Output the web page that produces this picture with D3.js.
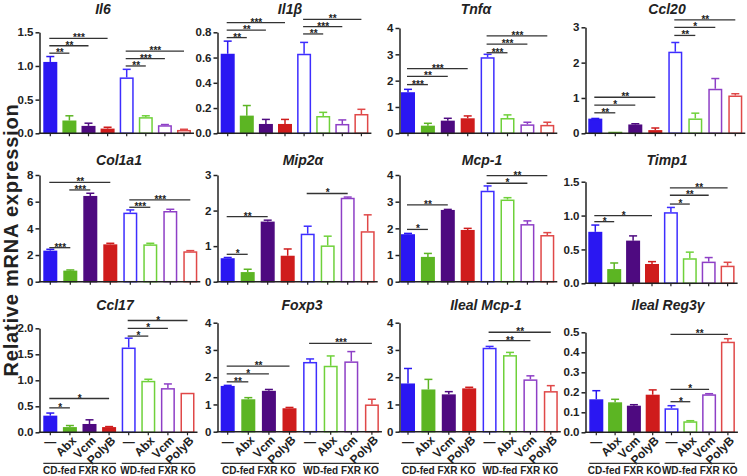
<!DOCTYPE html>
<html><head><meta charset="utf-8">
<script src="https://cdn.jsdelivr.net/npm/d3@7"></script>
<style>
body{margin:0;background:#fff}
svg{display:block}
text{font-family:"Liberation Sans",Arial,sans-serif;font-weight:bold;fill:#222}
</style>
</head><body>
<svg id="c" width="747" height="476"></svg>
<script>
// ---------- data ----------
const conditions = ["—", "Abx", "Vcm", "PolyB"];
const cohorts = ["CD-fed FXR KO", "WD-fed FXR KO"];
const genes = ["Il6", "Il1β", "Tnfα", "Ccl20", "Col1a1", "Mip2α", "Mcp-1", "Timp1", "Ccl17", "Foxp3", "Ileal Mcp-1", "Ileal Reg3γ"];
const yAxisTitle = "Relative mRNA expression";

const yMax = [1.5, 0.8, 4, 3, 8, 3, 4, 1.5, 2.0, 4, 4, 0.5];
const yTicks = [
  [0, 0.5, 1.0, 1.5], [0, 0.2, 0.4, 0.6, 0.8], [0, 1, 2, 3, 4], [0, 1, 2, 3],
  [0, 2, 4, 6, 8], [0, 1, 2, 3], [0, 1, 2, 3, 4], [0, 0.5, 1.0, 1.5],
  [0, 0.5, 1.0, 1.5, 2.0], [0, 1, 2, 3, 4], [0, 1, 2, 3, 4], [0, 0.1, 0.2, 0.3, 0.4, 0.5]
];
const tickDecimals = [1, 1, 0, 0, 0, 0, 0, 1, 1, 0, 0, 1];

// means (CD: -, Abx, Vcm, PolyB, WD: -, Abx, Vcm, PolyB) and SEM
const il6Mean = [1.06, 0.19, 0.11, 0.07, 0.83, 0.24, 0.12, 0.05];
const il6Sem = [0.08, 0.07, 0.04, 0.02, 0.12, 0.02, 0.01, 0.01];
const il1bMean = [0.63, 0.14, 0.074, 0.074, 0.63, 0.137, 0.074, 0.153];
const il1bSem = [0.10, 0.08, 0.036, 0.036, 0.09, 0.029, 0.032, 0.037];
const tnfaMean = [1.56, 0.29, 0.48, 0.57, 2.89, 0.58, 0.34, 0.32];
const tnfaSem = [0.11, 0.09, 0.09, 0.09, 0.11, 0.12, 0.08, 0.10];
const ccl20Mean = [0.415, 0.01, 0.25, 0.09, 2.31, 0.42, 1.26, 1.07];
const ccl20Sem = [0.005, 0.005, 0.02, 0.06, 0.26, 0.15, 0.29, 0.05];
const col1a1Mean = [2.33, 0.83, 6.43, 2.8, 5.18, 2.8, 5.3, 2.28];
const col1a1Sem = [0.1, 0.05, 0.2, 0.08, 0.2, 0.08, 0.13, 0.05];
const mip2aMean = [0.66, 0.27, 1.69, 0.73, 1.35, 1.02, 2.36, 1.42];
const mip2aSem = [0.02, 0.08, 0.04, 0.19, 0.21, 0.26, 0.02, 0.46];
const mcp1Mean = [1.78, 0.93, 2.69, 1.94, 3.41, 3.08, 2.16, 1.75];
const mcp1Sem = [0.03, 0.13, 0.02, 0.06, 0.18, 0.07, 0.12, 0.09];
const timp1Mean = [0.76, 0.21, 0.63, 0.285, 1.05, 0.37, 0.32, 0.26];
const timp1Sem = [0.10, 0.09, 0.07, 0.035, 0.07, 0.09, 0.06, 0.05];
const ccl17Mean = [0.32, 0.10, 0.16, 0.10, 1.63, 0.99, 0.85, 0.76];
const ccl17Sem = [0.05, 0.03, 0.08, 0.01, 0.18, 0.03, 0.08, 0.0];
const foxp3Mean = [1.68, 1.19, 1.50, 0.86, 2.56, 2.42, 2.58, 1.0];
const foxp3Sem = [0.02, 0.06, 0.05, 0.03, 0.11, 0.36, 0.36, 0.19];
const ilealMcp1Mean = [1.77, 1.55, 1.37, 1.59, 3.08, 2.81, 1.92, 1.49];
const ilealMcp1Sem = [0.55, 0.37, 0.10, 0.04, 0.05, 0.10, 0.13, 0.20];
const reg3gMean = [0.165, 0.15, 0.133, 0.188, 0.12, 0.055, 0.19, 0.453];
const reg3gSem = [0.043, 0.015, 0.005, 0.024, 0.013, 0.003, 0.003, 0.015];

const means = [il6Mean, il1bMean, tnfaMean, ccl20Mean, col1a1Mean, mip2aMean, mcp1Mean, timp1Mean, ccl17Mean, foxp3Mean, ilealMcp1Mean, reg3gMean];
const sems = [il6Sem, il1bSem, tnfaSem, ccl20Sem, col1a1Sem, mip2aSem, mcp1Sem, timp1Sem, ccl17Sem, foxp3Sem, ilealMcp1Sem, reg3gSem];

// significance brackets: [fromBar, toBar, level (data units), label]
const sig = [
  [[0,1,1.19,"**"],[0,2,1.30,"**"],[0,3,1.41,"***"],[4,5,1.00,"**"],[4,6,1.11,"***"],[4,7,1.22,"***"]],
  [[0,1,0.758,"**"],[0,2,0.818,"**"],[0,3,0.877,"***"],[4,5,0.787,"**"],[4,6,0.845,"***"],[4,7,0.903,"**"]],
  [[0,1,1.85,"***"],[0,2,2.16,"**"],[0,3,2.46,"***"],[4,5,3.06,"***"],[4,6,3.39,"***"],[4,7,3.70,"***"]],
  [[0,1,0.58,"**"],[0,2,0.80,"*"],[0,3,1.02,"**"],[4,5,2.77,"**"],[4,6,3.0,"*"],[4,7,3.21,"**"]],
  [[0,1,2.55,"***"],[1,2,6.88,"***"],[0,3,7.45,"**"],[4,5,5.58,"***"],[4,7,6.13,"***"]],
  [[0,1,0.77,"*"],[0,2,1.83,"**"],[4,6,2.48,"*"]],
  [[0,1,1.96,"*"],[0,2,2.88,"**"],[4,6,3.69,"*"],[4,7,3.98,"**"]],
  [[0,1,0.91,"*"],[0,3,1.0,"*"],[4,5,1.17,"*"],[4,6,1.30,"**"],[4,7,1.41,"**"]],
  [[0,1,0.47,"*"],[0,3,0.65,"*"],[4,5,1.85,"*"],[4,6,2.0,"*"],[4,7,2.15,"*"]],
  [[0,1,1.83,"**"],[0,2,2.12,"*"],[0,3,2.41,"**"],[4,7,3.24,"***"]],
  [[4,6,3.34,"**"],[4,7,3.65,"**"]],
  [[4,5,0.153,"*"],[4,6,0.215,"*"],[4,7,0.49,"**"]]
];

// ---------- style / layout ----------
const fillCols = ["#2a17f2", "#5cb523", "#4e0a80", "#cf1c1c"];
const lineCols = ["#3d2dff", "#6fd13a", "#8e3fc6", "#e04848"];
const axisCol = "#222";
// per panel: axis x, plot top, baseline, first bar left, bar step, title center x, title baseline
const layout = [
  {ax:39.5, top:32.3, bot:133.3, x0:43.3, step:19.1, tx:103, ty:13.5},
  {ax:217.5, top:32.3, bot:133.3, x0:220.7, step:19.1, tx:290, ty:13.5},
  {ax:399.5, top:28, bot:133.3, x0:401, step:19.9, tx:476, ty:13.5},
  {ax:585.5, top:27.3, bot:133.3, x0:588.3, step:20, tx:667, ty:13.5},
  {ax:39.5, top:175, bot:281.7, x0:43.3, step:20, tx:119, ty:165},
  {ax:217.5, top:175, bot:281.7, x0:220.7, step:20, tx:303, ty:165},
  {ax:399.5, top:175, bot:281.7, x0:401, step:19.9, tx:482, ty:165},
  {ax:585.5, top:181.7, bot:283.3, x0:588.3, step:18.9, tx:667, ty:165},
  {ax:39.5, top:328.3, bot:432.3, x0:43.3, step:19.6, tx:115, ty:310},
  {ax:217.5, top:322.7, bot:431.7, x0:220.7, step:20.6, tx:302, ty:310},
  {ax:399.5, top:322.7, bot:431.7, x0:401, step:20.4, tx:486, ty:310},
  {ax:585.5, top:332.3, bot:432.3, x0:589.3, step:18.8, tx:668, ty:310}
];
const BW = 14;

const svg = d3.select("#c");

genes.forEach((gene, i) => {
  const L = layout[i];
  const pin = 1 - BW / L.step;
  const x = d3.scaleBand().domain(d3.range(8))
    .range([L.x0, L.x0 + L.step * (8 - pin)]).paddingInner(pin).paddingOuter(0);
  const y = d3.scaleLinear().domain([0, yMax[i]]).range([L.bot, L.top]);
  const g = svg.append("g");
  const cx = j => x(j) + x.bandwidth() / 2;

  // title
  g.append("text").attr("x", L.tx).attr("y", L.ty).attr("text-anchor", "middle")
    .style("font-size", "14px").style("font-style", "italic").text(gene);

  // error bars + bars
  means[i].forEach((m, j) => {
    const filled = j < 4;
    const col = filled ? fillCols[j] : lineCols[j - 4];
    const top = m + sems[i][j];
    if (sems[i][j] > 0) {
      g.append("line").attr("x1", cx(j)).attr("x2", cx(j)).attr("y1", y(m)).attr("y2", y(top))
        .attr("stroke", col).attr("stroke-width", 1.5);
      g.append("line").attr("x1", cx(j) - 4).attr("x2", cx(j) + 4).attr("y1", y(top)).attr("y2", y(top))
        .attr("stroke", col).attr("stroke-width", 1.5);
    }
    const h = Math.max(L.bot - y(m) - 0.75, 0.8);
    g.append("rect").attr("x", x(j) + 0.75).attr("y", L.bot - h).attr("width", x.bandwidth() - 1.5)
      .attr("height", h).attr("fill", filled ? col : "#fff").attr("stroke", col).attr("stroke-width", 1.5);
  });

  // y axis
  const fmt = d3.format(tickDecimals[i] ? ".1f" : "d");
  const ya = g.append("g").attr("transform", `translate(${L.ax},0)`)
    .call(d3.axisLeft(y).tickValues(yTicks[i]).tickSize(4).tickSizeOuter(0).tickPadding(2).tickFormat(fmt));
  ya.select(".domain").attr("stroke", axisCol).attr("stroke-width", 1.5);
  ya.selectAll(".tick line").attr("stroke", axisCol).attr("stroke-width", 1.5);
  ya.selectAll(".tick text").style("font-size", "11.5px").attr("fill", "#222");

  // x axis
  const xEnd = x(7) + x.bandwidth() + 3;
  const xa = g.append("g").attr("transform", `translate(0,${L.bot})`)
    .call(d3.axisBottom(x).tickSize(3).tickSizeOuter(0).tickFormat(""));
  xa.select(".domain").remove();
  xa.selectAll(".tick line").attr("stroke", axisCol).attr("stroke-width", 1.2);
  g.append("line").attr("x1", L.ax - 0.75).attr("x2", xEnd).attr("y1", L.bot).attr("y2", L.bot)
    .attr("stroke", axisCol).attr("stroke-width", 1.5);

  // significance brackets
  sig[i].forEach(([a, b, lv, lab]) => {
    const yy = y(lv);
    g.append("line").attr("x1", cx(a) - 1).attr("x2", cx(b)).attr("y1", yy).attr("y2", yy)
      .attr("stroke", "#333").attr("stroke-width", 1.3);
    g.append("text").attr("x", (cx(a) + cx(b)) / 2).attr("y", yy + 3).attr("text-anchor", "middle")
      .style("font-size", "10px").text(lab);
  });

  // category labels on bottom row
  if (i >= 8) {
    for (let j = 0; j < 8; j++) {
      const lab = conditions[j % 4];
      if (j % 4 === 0) {
        g.append("text").attr("x", cx(j)).attr("y", L.bot + 14).attr("text-anchor", "middle")
          .style("font-size", "12px").text(lab);
      } else {
        g.append("text").attr("text-anchor", "end").style("font-size", "12px")
          .attr("transform", `translate(${cx(j) + 7},${L.bot + 9}) rotate(-45)`).text(lab);
      }
    }
    [0, 1].forEach(c => {
      const x1 = x(c * 4), x2 = x(c * 4 + 3) + x.bandwidth();
      g.append("line").attr("x1", x1).attr("x2", x2).attr("y1", 463.3).attr("y2", 463.3)
        .attr("stroke", "#333").attr("stroke-width", 1.2);
      g.append("text").attr("x", (x1 + x2) / 2).attr("y", 473.5).attr("text-anchor", "middle")
        .style("font-size", "10px").text(cohorts[c]);
    });
  }
});

svg.append("text").attr("transform", "translate(18,240) rotate(-90)").attr("text-anchor", "middle")
  .style("font-size", "20px").style("letter-spacing", "0.8px").text(yAxisTitle);
</script>
</body></html>
